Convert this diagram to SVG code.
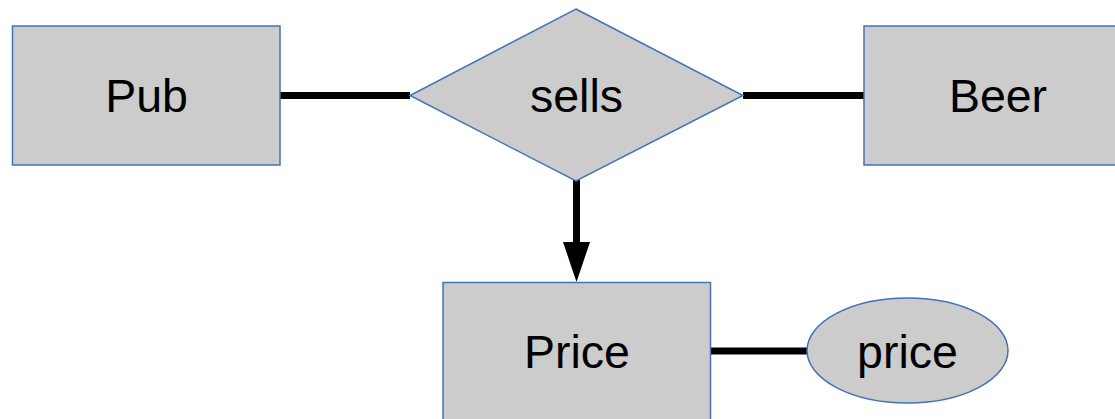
<svg xmlns="http://www.w3.org/2000/svg" width="1115" height="419" viewBox="0 0 1115 419">
<style>
.shape{fill:#cccccc;stroke:#4472b4;stroke-width:1.5}
.lbl{font-family:"Liberation Sans",Arial,sans-serif;font-size:46.5px;fill:#000;text-anchor:middle}
.conn{stroke:#000;stroke-width:7;fill:none}
</style>
<defs>
<marker id="arr" markerUnits="userSpaceOnUse" markerWidth="40" markerHeight="28" refX="0" refY="14" orient="auto" viewBox="0 0 40 28">
<polygon points="0,0.5 40,14 0,27.5" fill="#000"/>
</marker>
</defs>
<rect width="1115" height="419" fill="#fff"/>
<g id="connectors">
<line class="conn" x1="280" y1="95.5" x2="410" y2="95.5"/>
<line class="conn" x1="743" y1="95.5" x2="864" y2="95.5"/>
<line class="conn" x1="576.5" y1="180" x2="576.5" y2="242" marker-end="url(#arr)"/>
<line class="conn" x1="710" y1="351" x2="808" y2="351"/>
</g>
<g id="pub">
<rect class="shape" x="12.5" y="26" width="267.5" height="139"/>
<text class="lbl" x="146.5" y="112">Pub</text>
</g>
<g id="sells">
<polygon class="shape" points="576,9 743,95.5 576,181 410,95.5"/>
<text class="lbl" x="576.5" y="112">sells</text>
</g>
<g id="beer">
<rect class="shape" x="864" y="26" width="268" height="139"/>
<text class="lbl" x="998" y="112">Beer</text>
</g>
<g id="price-entity">
<rect class="shape" x="443" y="282.5" width="267.5" height="150"/>
<text class="lbl" x="577" y="368">Price</text>
</g>
<g id="price-attr">
<ellipse class="shape" cx="907.5" cy="350.5" rx="100.5" ry="52.5"/>
<text class="lbl" x="907.5" y="368">price</text>
</g>
</svg>
